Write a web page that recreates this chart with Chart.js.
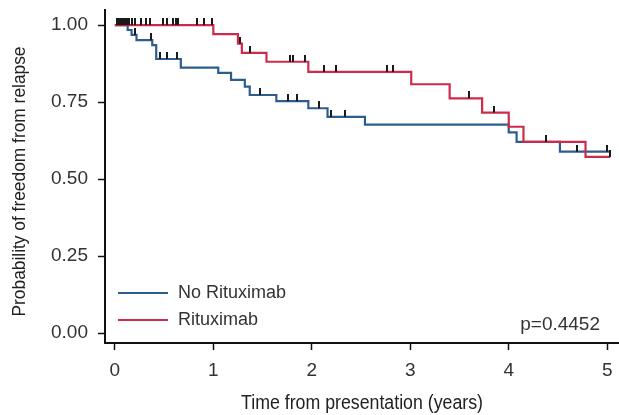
<!DOCTYPE html>
<html>
<head>
<meta charset="utf-8">
<script src="https://cdn.jsdelivr.net/npm/chart.js@4.4.0/dist/chart.umd.min.js"></script>
<style>
  html, body { margin: 0; padding: 0; background: #fff; }
  #wrap { width: 619px; height: 415px; }
</style>
</head>
<body>
<div id="wrap"><canvas id="kmChart"></canvas></div>
<script>
// Kaplan-Meier steps: time (years) and survival from that time on
const noRituxTimes = [0, 0.13, 0.17, 0.22, 0.38, 0.42, 0.67, 1.05, 1.18, 1.32, 1.37, 1.64, 1.965, 2.16, 2.54, 4.00, 4.08, 4.52, 5.02];
const noRituxSurv  = [1.00, 0.984, 0.968, 0.951, 0.935, 0.89, 0.862, 0.845, 0.822, 0.80, 0.773, 0.753, 0.73, 0.702, 0.677, 0.652, 0.621, 0.589, 0.589];
const rituxTimes = [0, 1.00, 1.25, 1.29, 1.54, 1.965, 3.01, 3.40, 3.73, 4.00, 4.15, 4.78, 5.03];
const rituxSurv  = [1.00, 0.971, 0.94, 0.91, 0.881, 0.848, 0.808, 0.762, 0.716, 0.67, 0.621, 0.572, 0.572];

// censored observations (years)
const noRituxCensor = [0.03, 0.06, 0.09, 0.20, 0.37, 0.46, 0.53, 0.635, 1.47, 1.76, 1.85, 2.07, 2.20, 2.34, 4.69, 5.0];
const rituxCensor = [0.02, 0.04, 0.06, 0.08, 0.10, 0.12, 0.14, 0.17, 0.20, 0.27, 0.32, 0.36, 0.49, 0.53, 0.59, 0.62, 0.64,
                     0.83, 0.91, 0.99, 1.27, 1.37, 1.78, 1.81, 1.93, 2.12, 2.25, 2.76, 2.82, 3.60, 3.85, 4.38, 5.03];

const xTicks = [0, 1, 2, 3, 4, 5];
const yTicks = [0, 0.25, 0.5, 0.75, 1];
const seriesLabels = ['No Rituximab', 'Rituximab'];
const xTitle = 'Time from presentation (years)';
const yTitle = 'Probability of freedom from relapse';
const pValueText = 'p=0.4452';

const blue = '#2c5d8d';
const red = '#cf2a4c';
const textColor = '#333';
const sansFont = "'Liberation Sans', Arial, sans-serif";

// survival level at time t
function levelAt(times, surv, t) {
    let v = surv[0];
    for (let i = 0; i < times.length; i++) {
        if (times[i] <= t) v = surv[i];
    }
    return v;
}

function toPoints(times, surv) {
    return times.map((t, i) => ({ x: t, y: surv[i] }));
}

function censorPoints(list, times, surv) {
    return list.map(t => ({ x: t, y: levelAt(times, surv, t) }));
}

// small vertical tick sitting on top of the curve
function makeTick() {
    const c = document.createElement('canvas');
    c.width = 2;
    c.height = 14;
    const g = c.getContext('2d');
    g.fillStyle = '#1a1a1a';
    g.fillRect(0, 0, 2, 7);
    return c;
}
const tickImg = makeTick();

// legend and p-value drawn inside the plot area
const kmLegend = {
    id: 'kmLegend',
    afterDraw(chart) {
        const { ctx, chartArea } = chart;
        const rows = [
            { label: seriesLabels[0], color: blue, y: chartArea.bottom - 50 },
            { label: seriesLabels[1], color: red, y: chartArea.bottom - 23 }
        ];
        ctx.save();
        ctx.font = '18px ' + sansFont;
        ctx.textBaseline = 'middle';
        rows.forEach(r => {
            ctx.strokeStyle = r.color;
            ctx.lineWidth = 1.8;
            ctx.beginPath();
            ctx.moveTo(chartArea.left + 13, r.y);
            ctx.lineTo(chartArea.left + 63, r.y);
            ctx.stroke();
            ctx.fillStyle = textColor;
            ctx.textAlign = 'left';
            ctx.fillText(r.label, chartArea.left + 73, r.y);
        });
        ctx.font = '19px ' + sansFont;
        ctx.textAlign = 'right';
        ctx.fillText(pValueText, chartArea.right - 19, chartArea.bottom - 18);
        ctx.restore();
    }
};

// axis titles in a narrow face (squeezed along the text)
const axisTitles = {
    id: 'axisTitles',
    afterDraw(chart) {
        const { ctx, chartArea } = chart;
        ctx.save();
        ctx.fillStyle = '#222';
        ctx.textAlign = 'center';
        ctx.textBaseline = 'middle';

        ctx.font = '20px ' + sansFont;
        const cx = (chartArea.left + chartArea.right) / 2;
        ctx.save();
        ctx.translate(cx, chartArea.bottom + 60);
        ctx.scale(242 / ctx.measureText(xTitle).width, 1);
        ctx.fillText(xTitle, 0, 0);
        ctx.restore();

        ctx.font = '18px ' + sansFont;
        ctx.save();
        ctx.translate(20, (chartArea.top + chartArea.bottom) / 2 + 5);
        ctx.rotate(-Math.PI / 2);
        ctx.scale(270 / ctx.measureText(yTitle).width, 1);
        ctx.fillText(yTitle, 0, 0);
        ctx.restore();

        ctx.restore();
    }
};

const ctx = document.getElementById('kmChart').getContext('2d');

window.kmChart = new Chart(ctx, {
    type: 'line',
    data: {
        datasets: [
            {
                label: 'Rituximab censored',
                data: censorPoints(rituxCensor, rituxTimes, rituxSurv),
                showLine: false,
                pointStyle: tickImg,
                pointRadius: 4
            },
            {
                label: 'No Rituximab censored',
                data: censorPoints(noRituxCensor, noRituxTimes, noRituxSurv),
                showLine: false,
                pointStyle: tickImg,
                pointRadius: 4
            },
            {
                label: seriesLabels[1],
                data: toPoints(rituxTimes, rituxSurv),
                borderColor: red,
                borderWidth: 2.2,
                stepped: 'before',
                pointRadius: 0,
                fill: false
            },
            {
                label: seriesLabels[0],
                data: toPoints(noRituxTimes, noRituxSurv),
                borderColor: blue,
                borderWidth: 2.2,
                stepped: 'before',
                pointRadius: 0,
                fill: false
            }
        ]
    },
    options: {
        responsive: true,
        maintainAspectRatio: false,
        animation: false,
        layout: { autoPadding: false, padding: { top: 10, right: 0, left: 0, bottom: 0 } },
        plugins: {
            legend: { display: false },
            tooltip: { enabled: false }
        },
        scales: {
            x: {
                type: 'linear',
                min: -0.10,
                max: 5.12,
                afterBuildTicks: s => { s.ticks = xTicks.map(v => ({ value: v })); },
                afterFit: s => { s.height = 72; s.paddingLeft = 0; s.paddingRight = 0; },
                grid: { drawOnChartArea: false, tickLength: 7, tickColor: '#111', tickWidth: 1.5 },
                border: { color: '#111', width: 2 },
                ticks: {
                    color: textColor,
                    padding: 9,
                    maxRotation: 0,
                    font: { family: sansFont, size: 19 }
                }
            },
            y: {
                type: 'linear',
                min: -0.032,
                max: 1.049,
                afterBuildTicks: s => { s.ticks = yTicks.map(v => ({ value: v })); },
                afterFit: s => { s.width = 105; s.paddingTop = 0; s.paddingBottom = 0; },
                grid: { drawOnChartArea: false, tickLength: 7, tickColor: '#111', tickWidth: 1.5 },
                border: { color: '#111', width: 2 },
                ticks: {
                    color: textColor,
                    padding: 10,
                    font: { family: sansFont, size: 19 },
                    callback: v => Number(v).toFixed(2)
                }
            }
        }
    },
    plugins: [kmLegend, axisTitles]
});
</script>
</body>
</html>
